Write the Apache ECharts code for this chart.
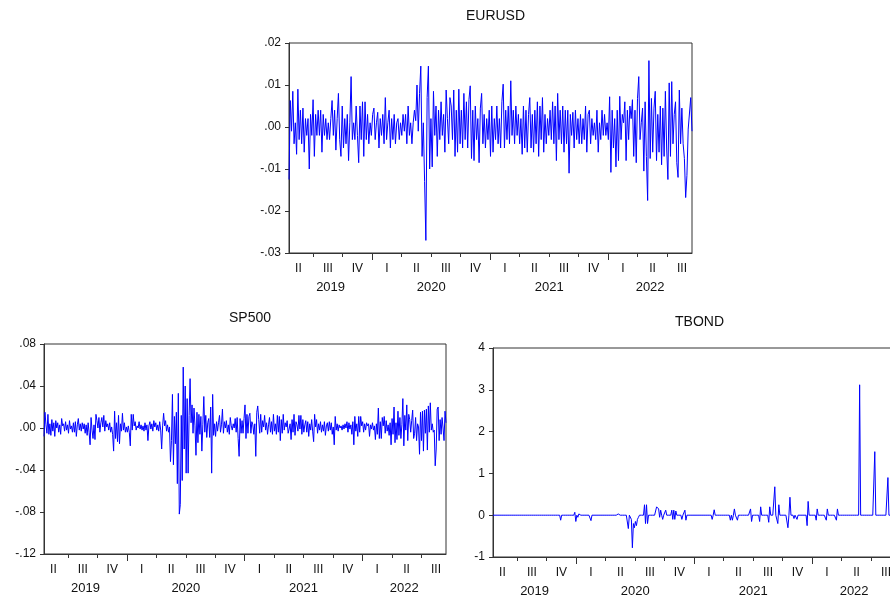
<!DOCTYPE html>
<html>
<head>
<meta charset="utf-8">
<script src="https://cdn.jsdelivr.net/npm/echarts@6/dist/echarts.min.js"></script>
<style>
  html, body { margin: 0; padding: 0; background: #fff; }
  #chart { width: 890px; height: 597px; }
</style>
</head>
<body>
<div id="chart"></div>
<script>
// sample span as fractional years (first and last daily observation)
const startYear = 2019.295
const endYear = 2022.71
const years = [2019, 2020, 2021, 2022]
const quarterNames = ['I', 'II', 'III', 'IV']

// daily returns left to right (evenly spaced in time)
const eurusd = [
  -0.0125, 0.0063, -0.001, 0.0085, -0.004, 0.001, -0.0065, 0.009, -0.003, 0.004,
  -0.004, 0.0045, -0.006, 0.002, -0.002, 0.002, -0.01, 0.003, -0.002, 0.0065,
  -0.007, 0.003, -0.002, 0.004, -0.002, 0.004, -0.006, 0.003, -0.002, 0.002,
  -0.003, 0.001, -0.003, 0.002, 0.0063, -0.002, 0.004, -0.0055, 0.002, 0.008,
  -0.003, -0.007, 0.005, -0.005, 0.002, -0.004, 0.003, -0.008, 0.001, 0.012,
  -0.003, 0.001, -0.003, 0.005, -0.002, -0.0085, 0.005, -0.003, 0.006, -0.007,
  0.006, -0.003, 0.003, -0.004, 0.001, -0.002, 0.003, 0.0045, -0.003, 0.001,
  0.0035, -0.005, 0.002, -0.002, 0.003, -0.004, 0.007, -0.003, 0.001, 0.004,
  -0.005, 0.002, -0.003, 0.003, -0.004, 0.001, 0.002, -0.003, 0.001, -0.002,
  0.003, -0.001, 0.003, -0.004, 0.005, -0.002, 0.001, -0.004, 0.001, 0.004,
  0.0015, 0.01, -0.001, 0.008, 0.0145, -0.007, 0.001, -0.013, -0.027, 0.007,
  0.0145, -0.01, 0.002, -0.0095, 0.0085, -0.002, 0.005, -0.007, 0.004, -0.003,
  0.006, -0.002, 0.003, -0.006, 0.0088, 0.002, -0.004, 0.007, 0.005, -0.003,
  0.0088, -0.007, 0.004, -0.006, 0.009, -0.004, 0.004, -0.005, 0.008, -0.003,
  0.006, -0.005, 0.0065, 0.0098, -0.0075, 0.004, -0.008, 0.005, -0.003, 0.002,
  -0.0085, 0.0045, 0.008, -0.004, 0.003, -0.005, 0.002, -0.003, 0.004, -0.007,
  0.005, -0.006, 0.002, -0.003, 0.005, -0.004, 0.002, -0.005, 0.006, 0.0102,
  -0.005, 0.004, -0.003, 0.005, -0.004, 0.011, -0.002, 0.004, -0.004, 0.005,
  -0.002, 0.003, -0.004, 0.002, -0.0065, 0.005, -0.005, 0.004, -0.006, 0.003,
  0.007, -0.005, 0.003, -0.006, 0.004, -0.004, 0.006, -0.007, 0.005, -0.003,
  0.007, -0.006, 0.003, -0.004, 0.002, -0.002, 0.004, -0.003, 0.006, -0.004,
  0.005, -0.008, 0.008, -0.003, 0.004, -0.004, 0.005, -0.006, 0.004, -0.004,
  0.004, -0.011, 0.003, -0.002, 0.0035, -0.005, 0.004, -0.003, 0.002, -0.004,
  0.003, -0.004, 0.002, -0.003, 0.005, -0.006, 0.003, 0.004, -0.004, 0.002,
  -0.002, 0.001, -0.003, 0.004, -0.006, 0.001, -0.003, 0.004, -0.002, 0.003,
  -0.002, 0.001, -0.003, 0.0072, -0.0108, 0.004, -0.005, 0.002, -0.0095, 0.004,
  -0.008, 0.0073, -0.003, 0.003, 0.001, 0.006, -0.008, 0.004, -0.003, 0.005,
  0.002, 0.0065, -0.007, 0.004, -0.0085, 0.0068, 0.012, -0.003, 0.001, 0.0045,
  -0.0105, 0.006, -0.007, -0.0175, 0.0158, -0.0075, 0.0068, -0.006, 0.0045, 0.0085,
  -0.008, 0.003, -0.006, 0.005, -0.009, 0.0045, -0.007, 0.0085, -0.005, -0.0125,
  0.0105, -0.007, 0.0108, -0.004, 0.003, 0.006, -0.0085, -0.012, 0.0088, -0.004,
  0.0045, -0.004, -0.0075, -0.0168, -0.0115, -0.0005, -0.0003, 0.007, -0.001
]

const sp500 = [
  -0.008, 0.015, 0.003, -0.005, 0.013, -0.006, 0.004, -0.007, 0.008, -0.003,
  0.005, -0.008, 0.007, 0.0, 0.005, -0.004, 0.003, -0.006, 0.009, 0.002,
  0.004, -0.003, 0.006, -0.002, 0.003, -0.005, 0.007, -0.001, 0.002, -0.004,
  0.005, -0.004, 0.006, -0.008, 0.003, 0.009, -0.002, 0.004, -0.003, 0.005,
  -0.001, 0.004, -0.005, 0.003, -0.007, 0.005, -0.004, -0.016, 0.01, -0.002,
  -0.01, 0.003, -0.011, 0.013, 0.007, 0.0, 0.01, -0.004, 0.005, 0.01,
  0.001, 0.012, -0.003, 0.007, 0.001, 0.004, -0.002, 0.005, -0.004, 0.001,
  -0.006, -0.022, 0.016, -0.01, 0.005, -0.013, 0.012, -0.015, 0.004, -0.003,
  0.014, -0.002, 0.005, -0.004, 0.001, -0.004, 0.002, -0.004, -0.017, 0.013,
  -0.002, 0.013, 0.002, 0.006, -0.002, 0.002, 0.0, 0.006, -0.001, 0.003,
  -0.002, 0.002, -0.003, 0.005, -0.002, 0.003, -0.012, 0.002, 0.006, -0.001,
  0.004, -0.003, 0.007, 0.001, 0.005, -0.002, 0.003, -0.003, 0.006, -0.002,
  -0.02, 0.002, 0.014, 0.002, 0.007, -0.003, 0.003, -0.004, 0.001, -0.032,
  -0.012, 0.032, -0.035, 0.011, -0.015, 0.015, -0.053, 0.033, -0.082, -0.073,
  0.012, -0.05, 0.058, -0.02, 0.04, -0.043, 0.028, -0.043, 0.012, 0.047,
  0.005, 0.022, -0.005, 0.019, 0.002, -0.026, 0.015, -0.014, 0.013, -0.006,
  0.011, -0.022, 0.003, 0.03, -0.004, 0.012, -0.009, 0.005, 0.009, -0.009,
  0.02, -0.043, 0.032, -0.007, 0.004, -0.008, 0.006, -0.003, 0.005, 0.012,
  -0.004, 0.003, 0.018, -0.005, 0.006, 0.0, 0.007, -0.004, 0.003, -0.006,
  0.01, 0.002, -0.002, 0.004, 0.0, 0.009, -0.004, 0.01, -0.01, -0.027,
  0.009, -0.005, 0.007, -0.005, 0.009, 0.022, -0.01, 0.013, -0.005, 0.011,
  0.014, -0.005, 0.006, 0.003, -0.006, 0.004, -0.027, 0.015, 0.021, 0.008,
  -0.005, 0.013, -0.004, 0.007, 0.001, 0.012, -0.002, 0.005, -0.006, 0.003,
  0.01, -0.004, 0.006, -0.006, 0.013, -0.003, 0.004, -0.006, 0.012, -0.004,
  0.011, -0.012, 0.008, -0.005, 0.013, -0.002, 0.005, 0.001, 0.007, -0.005,
  -0.001, 0.004, -0.011, 0.008, -0.004, 0.013, -0.007, 0.006, 0.003, -0.003,
  0.012, -0.001, 0.012, -0.006, 0.008, -0.004, 0.003, 0.007, -0.004, 0.006,
  -0.008, 0.004, -0.002, 0.008, -0.003, -0.013, 0.013, 0.001, 0.008, -0.005,
  0.004, -0.002, 0.006, -0.004, 0.003, -0.003, 0.006, -0.007, 0.002, 0.005,
  -0.003, 0.006, -0.002, 0.005, -0.006, 0.001, -0.016, 0.011, -0.002, 0.004,
  -0.003, 0.003, 0.0, 0.002, -0.002, 0.003, -0.001, 0.004, 0.0, 0.006,
  -0.004, 0.005, -0.001, 0.003, -0.006, 0.006, -0.016, 0.011, -0.003, 0.004,
  -0.008, 0.011, -0.004, 0.011, 0.002, 0.006, -0.004, 0.004, -0.002, 0.005,
  0.002, 0.004, -0.008, 0.003, -0.001, 0.005, -0.002, 0.002, -0.011, 0.004,
  -0.006, 0.019, -0.01, 0.006, -0.01, 0.01, 0.002, 0.011, -0.005, 0.007,
  -0.003, 0.003, -0.007, 0.005, -0.016, 0.009, -0.006, 0.02, -0.014, 0.005,
  -0.011, 0.016, -0.007, 0.01, -0.01, 0.003, 0.028, -0.017, 0.012, -0.002,
  0.022, -0.012, 0.013, 0.008, -0.004, 0.007, 0.017, -0.01, -0.005, 0.01,
  -0.012, 0.004, 0.001, -0.025, 0.015, -0.012, 0.016, -0.022, 0.017, -0.005,
  0.018, -0.021, 0.021, -0.004, 0.024, -0.002, 0.004, -0.004, -0.002, -0.036,
  -0.02, 0.018, 0.02, -0.012, 0.008, -0.006, 0.01, 0.0, -0.012, 0.016,
  0.005
]

const tbond = [
  0, 0, 0, 0, 0, 0, 0, 0, 0, 0, 0, 0, 0, 0, 0, 0, 0, 0, 0, 0,
  0, 0, 0, 0, 0, 0, 0, 0.01, 0, 0, 0, 0, 0, -0.01, 0, 0, 0, 0, 0, 0,
  0, 0, 0, 0, 0, 0, 0, 0, 0, 0, 0, 0, 0, 0, 0, 0, 0, 0, 0, 0,
  0, 0, 0, 0, 0, 0, 0, -0.12, 0, 0, 0, 0, 0, 0, 0, 0, 0, 0, 0, 0,
  0, 0.07, -0.15, 0, -0.05, 0.03, 0.02, 0, 0, 0, 0.03, 0, -0.03, 0, 0, 0, 0, -0.13, 0, 0,
  0, 0, 0, 0, 0, 0, 0, 0, 0, 0, 0, 0, 0, 0, 0, 0, 0, 0, 0, 0,
  0, 0, 0, 0, 0.03, 0, 0, 0, 0, 0, 0, 0, 0, 0, -0.32, 0, 0, -0.1, -0.78, -0.2,
  -0.3, -0.15, -0.25, -0.1, -0.05, 0, 0, 0, 0, 0, 0.25, -0.2, 0.25, -0.2, 0, 0, 0, 0, 0, 0,
  0, 0, 0.2, 0.18, 0.15, -0.05, 0.12, 0, -0.1, 0, 0, 0.12, 0, 0, 0, 0, 0, 0.12, -0.1, 0.12,
  -0.1, 0.1, 0, 0, 0, 0, 0, -0.1, 0, 0, 0.12, -0.12, 0, 0, 0, 0, 0, 0, 0, 0,
  0, 0, 0, 0, 0, 0, 0, 0, 0, 0, 0, 0, 0, 0, 0, 0, 0, -0.1, 0, 0.13,
  0, 0, 0, 0, 0, 0, 0, 0, 0, 0, 0, 0, 0, 0, 0, -0.12, 0, -0.12, 0, 0.15,
  0, 0, -0.12, 0, 0, 0, 0, 0, 0, 0, 0, 0, 0, 0, 0, 0.15, -0.15, 0, 0, 0,
  0, 0, 0, 0, -0.15, 0.2, 0, 0, 0, 0, 0, 0, 0, -0.17, 0.2, 0, 0, 0, 0, 0.68,
  0, 0, -0.2, 0.25, 0, 0, 0, 0, 0, 0, 0, 0, -0.3, 0, 0.43, 0, 0, 0, -0.08, 0,
  0, -0.1, 0, 0, 0, 0, 0, 0, 0, 0, 0, -0.25, 0.33, 0, 0, 0, 0, 0, 0, 0,
  -0.12, 0.15, 0, 0, 0, 0, 0, 0, 0, 0, -0.12, 0.15, 0, 0, 0, 0, 0, 0, 0, 0,
  -0.12, 0.15, 0, 0, 0, 0, 0, 0, 0, 0, 0, 0, 0, 0, 0, 0, 0, 0, 0, 0,
  0, 0, 0, 3.12, 0, 0, 0, 0, 0, 0, 0, 0, 0, 0, 0, 0, 0, 0, 1.52, 0,
  0, 0, 0, 0, 0, 0, 0, 0, 0, 0, 0, 0.9, 0, 0, 0, 0, 0, 0, 0, 0
]

const font = 'Liberation Sans, Arial, sans-serif'
const ink = '#111'
const frame = '#333'

// spread each series evenly over the sample span
const toPoints = arr => arr.map((v, i) => [startYear + i * (endYear - startYear) / (arr.length - 1), v])

// quarter boundaries / midpoints and year boundaries / midpoints inside the span
const quarterBounds = []
const quarterMids = []
years.forEach(y => {
  for (let q = 0; q < 4; q++) {
    const b = y + q / 4
    if (b > startYear && b < endYear) quarterBounds.push(b)
    const m = b + 0.125
    if (m > startYear && m < endYear) quarterMids.push(m)
  }
})
const yearBounds = years.filter(y => y > startYear && y < endYear)
const yearMids = years.map(y => (Math.max(y, startYear) + Math.min(y + 1, endYear)) / 2)

const decimals = v => v.toFixed(2).replace('0.', '.')
const integers = v => String(v)

const panels = [
  { name: 'EURUSD', data: eurusd, min: -0.03, max: 0.02, interval: 0.01, fmt: decimals,
    box: { left: 289, top: 43, width: 403, height: 210 }, titleY: 4 },
  { name: 'SP500', data: sp500, min: -0.12, max: 0.08, interval: 0.04, fmt: decimals,
    box: { left: 44, top: 344, width: 402, height: 210 }, titleY: 306 },
  { name: 'TBOND', data: tbond, min: -1, max: 4, interval: 1, fmt: integers,
    box: { left: 493, top: 348, width: 403, height: 209 }, titleY: 310 }
]

const option = {
  animation: false,
  backgroundColor: '#fff',
  title: panels.map(p => ({
    text: p.name,
    left: p.box.left + p.box.width / 2,
    top: p.titleY,
    textAlign: 'center',
    textStyle: { fontFamily: font, fontSize: 14, fontWeight: 'normal', color: ink }
  })),
  // TBOND's frame runs past the right edge of the window, as in the original
  grid: panels.map(p => ({
    ...p.box, outerBoundsMode: 'none', containLabel: false,
    show: true, borderColor: frame, borderWidth: 1, backgroundColor: '#fff'
  })),
  xAxis: [],
  yAxis: [],
  series: []
}

panels.forEach((p, i) => {
  option.xAxis.push({
    type: 'value', gridIndex: i, min: startYear, max: endYear,
    splitLine: { show: false },
    axisLine: { show: true, onZero: false, lineStyle: { color: frame } },
    axisTick: { show: true, customValues: quarterBounds, length: 4, lineStyle: { color: frame } },
    axisLabel: {
      customValues: quarterMids, margin: 10, fontFamily: font, fontSize: 12, color: ink,
      formatter: v => quarterNames[Math.round((v - Math.floor(v) - 0.125) * 4)]
    }
  })
  option.xAxis.push({
    type: 'value', gridIndex: i, min: startYear, max: endYear, position: 'bottom',
    splitLine: { show: false },
    axisLine: { show: false, onZero: false },
    axisTick: { show: true, customValues: yearBounds, length: 7, lineStyle: { color: frame } },
    axisLabel: {
      customValues: yearMids, margin: 28, fontFamily: font, fontSize: 13, color: ink,
      formatter: v => String(Math.floor(v))
    }
  })
  option.yAxis.push({
    type: 'value', gridIndex: i, min: p.min, max: p.max, interval: p.interval,
    splitLine: { show: false },
    axisLine: { show: true, lineStyle: { color: frame } },
    axisTick: { show: true, length: 4, lineStyle: { color: frame } },
    axisLabel: { margin: 8, fontFamily: font, fontSize: 12, color: ink, formatter: p.fmt }
  })
  option.series.push({
    name: p.name, type: 'line', xAxisIndex: i * 2, yAxisIndex: i,
    data: toPoints(p.data), showSymbol: false, symbol: 'none',
    lineStyle: { color: '#0000ff', width: 1 }
  })
})

const chart = echarts.init(document.getElementById('chart'))
chart.setOption(option)
</script>
</body>
</html>
